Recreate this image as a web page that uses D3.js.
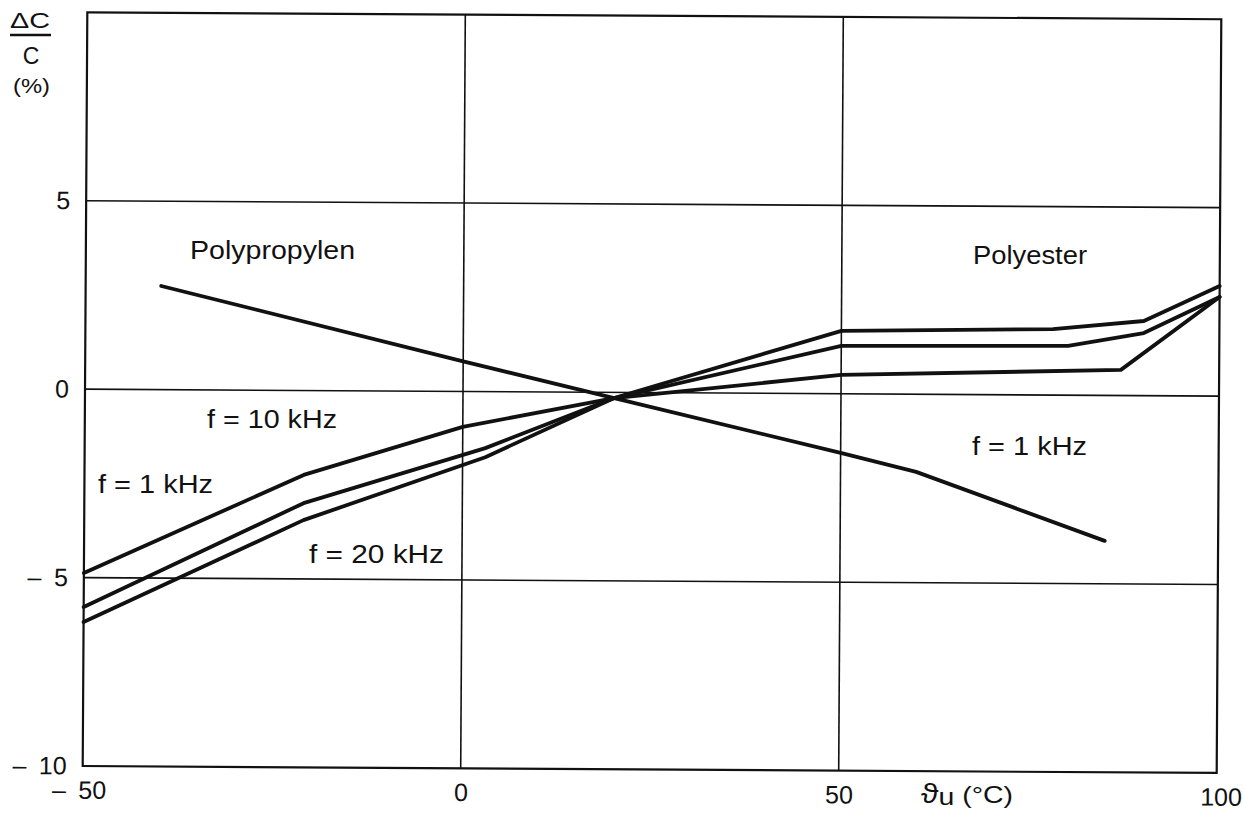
<!DOCTYPE html>
<html>
<head>
<meta charset="utf-8">
<script src="https://cdn.jsdelivr.net/npm/d3@7"></script>
<style>
  html, body { margin: 0; padding: 0; background: #fff; }
  svg { display: block; }
  text { font-family: "Liberation Sans", Arial, Helvetica, sans-serif; fill: #111; }
</style>
</head>
<body>
<svg id="chart" width="1244" height="815"></svg>
<script>
// axis ticks and grid
const xTicks = [-50, 0, 50, 100];
const yTicks = [-10, -5, 0, 5];
const xGrid = [0, 50];
const yGrid = [-5, 0, 5];

// Polypropylen, f = 1 kHz
const ppTemp = [-40, 0, 20, 50, 60, 85];
const ppDelta = [2.75, 0.8, -0.15, -1.57, -2.06, -3.86];

// Polyester, f = 1 kHz / 10 kHz / 20 kHz
const pe1Temp = [-50, -21, 0, 20, 50, 87, 100];
const pe1Delta = [-4.88, -2.24, -0.94, -0.15, 0.5, 0.68, 2.63];
const pe10Temp = [-50, -21, 3, 20, 50, 80, 90, 100];
const pe10Delta = [-5.78, -2.99, -1.5, -0.15, 1.27, 1.31, 1.66, 2.63];
const pe20Temp = [-50, -21, 3, 20, 50, 78, 90, 100];
const pe20Delta = [-6.18, -3.44, -1.74, -0.15, 1.67, 1.75, 1.98, 2.92];

const series = [
  [ppTemp, ppDelta],
  [pe1Temp, pe1Delta],
  [pe10Temp, pe10Delta],
  [pe20Temp, pe20Delta]
];

// labels placed in the plot: text, left x, baseline y, width
const labels = [
  ['Polypropylen', 190, 259, 165],
  ['Polyester', 973, 264, 114],
  ['f = 10 kHz', 207, 428, 130],
  ['f = 1 kHz', 98, 493, 115],
  ['f = 20 kHz', 309, 563, 135],
  ['f = 1 kHz', 972, 455, 115]
];

const svg = d3.select('#chart');
const plotLeft = 85, plotRight = 1219, plotTop = 15.75, plotBottom = 769.5;

const x = d3.scaleLinear().domain([-50, 100]).range([plotLeft, plotRight]);
const y = d3.scaleLinear().domain([-10, 10]).range([plotBottom, plotTop]);

// the scanned page is slightly turned
const g = svg.append('g')
  .attr('transform', `rotate(0.35, ${(plotLeft + plotRight) / 2}, 393)`);

// grid
g.selectAll('.hgrid').data(yGrid).enter().append('line')
  .attr('x1', plotLeft).attr('x2', plotRight)
  .attr('y1', d => y(d)).attr('y2', d => y(d))
  .attr('stroke', '#111').attr('stroke-width', 1.6);

g.selectAll('.vgrid').data(xGrid).enter().append('line')
  .attr('y1', plotTop).attr('y2', plotBottom)
  .attr('x1', d => x(d)).attr('x2', d => x(d))
  .attr('stroke', '#111').attr('stroke-width', 1.6);

g.append('rect')
  .attr('x', plotLeft).attr('y', plotTop)
  .attr('width', plotRight - plotLeft).attr('height', plotBottom - plotTop)
  .attr('fill', 'none').attr('stroke', '#111').attr('stroke-width', 2.2);

// axes (labels only)
const yAxis = g.append('g')
  .attr('transform', `translate(${plotLeft},0)`)
  .call(d3.axisLeft(y).tickValues(yTicks).tickSize(0).tickPadding(16)
    .tickFormat(d => d < 0 ? '\u2013\u2002' + Math.abs(d) : String(d)));

const xAxis = g.append('g')
  .attr('transform', `translate(0,${plotBottom})`)
  .call(d3.axisBottom(x).tickValues(xTicks).tickSize(0).tickPadding(15)
    .tickFormat(d => d < 0 ? '\u2013\u2002' + Math.abs(d) : String(d)));

[yAxis, xAxis].forEach(a => {
  a.select('.domain').remove();
  a.selectAll('text')
    .attr('fill', '#111')
    .style('font-size', '25px')
    .style('font-family', '"Liberation Sans", Arial, sans-serif');
});
xAxis.selectAll('.tick text').filter(d => d === -50).attr('dx', '-4');
xAxis.selectAll('.tick text').filter(d => d === 100).attr('dx', '4');

// curves
const line = d3.line()
  .x(d => x(d[0]))
  .y(d => y(d[1]));

g.selectAll('.curve').data(series).enter().append('path')
  .attr('class', 'curve')
  .attr('d', s => line(s[0].map((t, i) => [t, s[1][i]])))
  .attr('fill', 'none')
  .attr('stroke', '#111')
  .attr('stroke-width', 3.8)
  .attr('stroke-linejoin', 'round')
  .attr('stroke-linecap', 'round');

// in-plot labels
svg.selectAll('.lbl').data(labels).enter().append('text')
  .attr('x', d => d[1]).attr('y', d => d[2])
  .attr('textLength', d => d[3])
  .attr('lengthAdjust', 'spacingAndGlyphs')
  .style('font-size', '25px')
  .text(d => d[0]);

// x axis title
const xt = svg.append('text')
  .attr('x', 921).attr('y', 803)
  .attr('textLength', 92).attr('lengthAdjust', 'spacingAndGlyphs')
  .style('font-size', '24px');
xt.append('tspan').style('font-size', '27px').text('\u03d1');
xt.append('tspan').attr('dy', 2).text('u');
xt.append('tspan').attr('dy', -2).text(' (\u00b0C)');

// y axis title as fraction
svg.append('text').attr('x', 10).attr('y', 28)
  .attr('textLength', 40).attr('lengthAdjust', 'spacingAndGlyphs')
  .style('font-size', '22px').text('\u0394C');
svg.append('line')
  .attr('x1', 10).attr('x2', 51).attr('y1', 35).attr('y2', 35)
  .attr('stroke', '#111').attr('stroke-width', 2.5);
svg.append('text').attr('x', 31).attr('y', 64)
  .attr('text-anchor', 'middle')
  .style('font-size', '23px').text('C');
svg.append('text').attr('x', 13).attr('y', 93)
  .attr('textLength', 37).attr('lengthAdjust', 'spacingAndGlyphs')
  .style('font-size', '21px').text('(%)');
</script>
</body>
</html>
